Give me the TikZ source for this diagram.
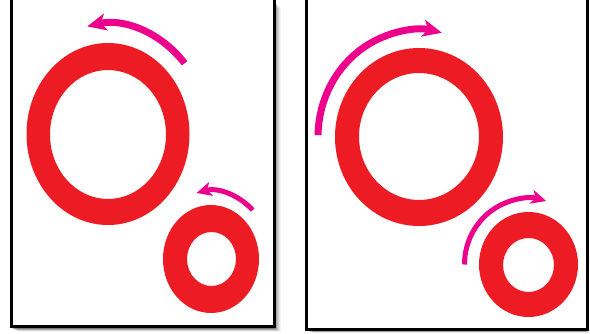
\documentclass[tikz,border=0pt]{standalone}
\usetikzlibrary{arrows.meta,calc}
\definecolor{ringred}{RGB}{237,28,36}
\definecolor{arrowmag}{RGB}{236,0,140}
\tikzset{
  frame/.style={draw=black,line width=3pt,fill=white},
  ring/.style={fill=ringred,even odd rule},
  bigarrow/.style={draw=arrowmag,line width=7pt,-{Stealth[length=19pt,width=17pt,inset=5pt]}},
  smallarrow/.style={draw=arrowmag,line width=5pt,-{Stealth[length=15pt,width=14pt,inset=4pt]}},
}
\begin{document}
\begin{tikzpicture}[x=1pt,y=1pt]
\useasboundingbox (0,0) rectangle (590,333);
% shadows
\foreach \d/\o in {1/0.18,2/0.16,3/0.14,4/0.12,5/0.10,6/0.08,7/0.06,8/0.04} {
  \fill[black,opacity=\o] (10+\d,5.5-\d*0.5) rectangle (272.5+\d,332.5-\d);
  \fill[black,opacity=\o] (305+\d,2.5-\d*0.3) rectangle (585.5+\d*0.4,332.5-\d);
}
% frames
\node[frame,minimum width=262.5pt,minimum height=327pt,inner sep=0pt,anchor=south west] (leftframe) at (10,5.5) {};
\node[frame,minimum width=280.5pt,minimum height=330pt,inner sep=0pt,anchor=south west] (rightframe) at (305,2.5) {};
% left panel
\coordinate (lbc) at (108,199);
\coordinate (lsc) at (211,74);
\fill[ring] (lbc) ellipse[x radius=81.5,y radius=91] (108,198.5) ellipse[x radius=58,y radius=64.5];
\fill[ring] (lsc) ellipse[x radius=48,y radius=54] (211.5,74) ellipse[x radius=24.5,y radius=27];
\draw[bigarrow] ($(lbc)+(40:100 and 110)$) arc[start angle=40,end angle=102,x radius=100,y radius=110];
\draw[smallarrow] ($(lsc)+(46:60 and 68)$) arc[start angle=46,end angle=104,x radius=60,y radius=68];
% right panel
\coordinate (rbc) at (419,196);
\coordinate (rsc) at (528.5,68.5);
\fill[ring] (rbc) ellipse[x radius=84,y radius=89] (419,196.5) ellipse[x radius=60,y radius=63.5];
\fill[ring] (rsc) ellipse[x radius=49.5,y radius=52.5] (528.5,68) ellipse[x radius=25.5,y radius=27];
\draw[bigarrow] ($(rbc)+(179:101 and 107)$) arc[start angle=179,end angle=77,x radius=101,y radius=107];
\draw[smallarrow] ($(rsc)+(180:64 and 66)$) arc[start angle=180,end angle=74,x radius=64,y radius=66];
\end{tikzpicture}
\end{document}
